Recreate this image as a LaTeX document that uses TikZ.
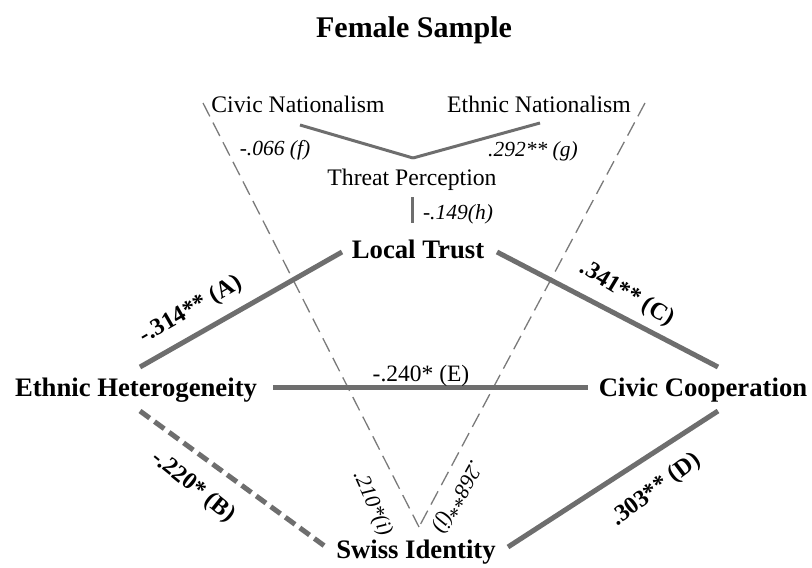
\documentclass[tikz,border=0pt]{standalone}
\usepackage{fontspec}
\setmainfont{Liberation Serif}
\definecolor{linegray}{HTML}{6E6E6E}
\definecolor{guidegray}{HTML}{7A7A7A}
\tikzset{
  heading/.style={font=\fontsize{30}{34}\selectfont\bfseries, inner sep=0pt, anchor=base},
  var/.style={font=\fontsize{26.7}{30}\selectfont\bfseries, inner sep=0pt, anchor=base},
  subvar/.style={font=\fontsize{23.7}{28}\selectfont, inner sep=0pt, anchor=base},
  coef/.style={font=\fontsize{21.5}{25}\selectfont\itshape, inner sep=0pt},
  bcoef/.style={font=\fontsize{24}{28}\selectfont\bfseries, inner sep=0pt},
  rcoef/.style={font=\fontsize{23.5}{28}\selectfont, inner sep=0pt, anchor=base},
  link/.style={draw=linegray, line width=5pt},
  weaklink/.style={draw=linegray, line width=3pt},
  dashlink/.style={draw=linegray, line width=5pt, dash pattern=on 12pt off 6pt},
  guide/.style={draw=guidegray, line width=1.3pt, dash pattern=on 15pt off 7pt},
}
\begin{document}
\begin{tikzpicture}[x=1pt, y=-1pt]
  \useasboundingbox (0,0) rectangle (812,568);

  % title
  \node[heading] (title) at (414,37) {Female Sample};

  % variables
  \node[subvar] (civnat) at (298,112) {Civic Nationalism};
  \node[subvar] (ethnat) at (539,112) {Ethnic Nationalism};
  \node[subvar] (threat) at (412,185) {Threat Perception};
  \node[var] (trust) at (418,258) {Local Trust};
  \node[var] (hetero) at (136,396) {Ethnic Heterogeneity};
  \node[var] (coop) at (703,396) {Civic Cooperation};
  \node[var] (swiss) at (416,558) {Swiss Identity};

  % end points of the connectors
  \coordinate (cn-end) at (300,125);
  \coordinate (en-end) at (540,123);
  \coordinate (tp-top) at (413,158);
  \coordinate (tp-bot) at (412,197);
  \coordinate (lt-top) at (412,223);
  \coordinate (lt-left) at (342,252);
  \coordinate (lt-right) at (497,252);
  \coordinate (eh-up) at (140,367);
  \coordinate (eh-right) at (273,387);
  \coordinate (eh-down) at (140,411);
  \coordinate (cc-up) at (718,367);
  \coordinate (cc-left) at (588,387);
  \coordinate (cc-down) at (718,411);
  \coordinate (si-left) at (326,547);
  \coordinate (si-right) at (508,547);
  \coordinate (si-top) at (419,527);
  \coordinate (cn-guide) at (203,103);
  \coordinate (en-guide) at (645,103);

  % dashed paths from the nationalism measures to Swiss identity
  \draw[guide] (cn-guide) -- (si-top);
  \draw[guide] (en-guide) -- (si-top);

  % nationalism and threat perception
  \draw[weaklink] (cn-end) -- (tp-top);
  \draw[weaklink] (en-end) -- (tp-top);
  \draw[weaklink] (tp-bot) -- (lt-top);

  % main paths
  \draw[link] (eh-up) -- (lt-left);
  \draw[link] (lt-right) -- (cc-up);
  \draw[link] (eh-right) -- (cc-left);
  \draw[dashlink] (eh-down) -- (si-left);
  \draw[link] (si-right) -- (cc-down);

  % coefficients
  \node[coef] (cf) at (275,150) {-.066 (f)};
  \node[coef] (cg) at (533,151) {.292** (g)};
  \node[coef] (ch) at (458,214) {-.149(h)};
  \node[bcoef, rotate=30] (ca) at (191,310) {-.314** (A)};
  \node[bcoef, rotate=-31] (cc) at (627,294) {.341** (C)};
  \node[rcoef] (ce) at (421,381) {-.240* (E)};
  \node[bcoef, rotate=-39] (cb) at (193,487) {-.220* (B)};
  \node[bcoef, rotate=37] (cd) at (656,490) {.303** (D)};
  \node[coef, rotate=-66] (ci) at (372,504) {.210*(i)};
  \node[coef, rotate=-119] (cj) at (457,497) {.268**(j)};
\end{tikzpicture}
\end{document}
